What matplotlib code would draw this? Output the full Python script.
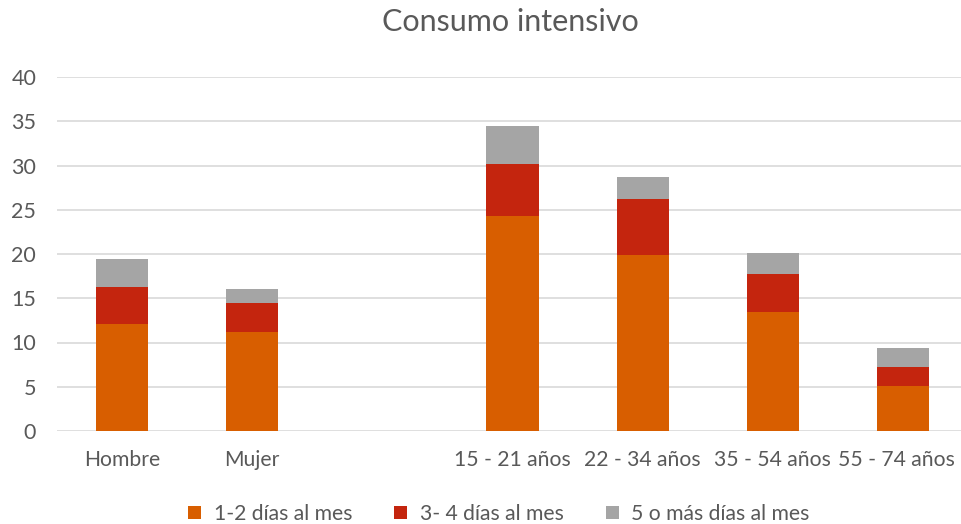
import matplotlib
matplotlib.use("Agg")
import matplotlib.pyplot as plt
import matplotlib.transforms as mtransforms
import numpy as np

categories = ["Hombre", "Mujer", "", "15 - 21 años", "22 - 34 años", "35 - 54 años", "55 - 74 años"]
s1 = [12.1, 11.2, 0, 24.3, 19.9, 13.5, 5.1]
s2 = [4.2, 3.3, 0, 5.9, 6.3, 4.2, 2.1]
s3 = [3.1, 1.5, 0, 4.3, 2.45, 2.45, 2.2]
series_names = ["1-2 días al mes", "3- 4 días al mes", "5 o más días al mes"]
colors = ["#D85E00", "#C4250E", "#A5A5A5"]
yticks = [0, 5, 10, 15, 20, 25, 30, 35, 40]

plt.rcParams['font.family'] = ['Lato', 'DejaVu Sans']
fig = plt.figure(figsize=(9.61, 5.24), dpi=100)
W, H = 961, 524
left, right = 57, 968
top, bottom = 77, 431
ax = fig.add_axes([left / W, 1 - bottom / H, (right - left) / W, (bottom - top) / H])

x = np.arange(len(categories))
b1 = np.array(s1); b2 = np.array(s2); b3 = np.array(s3)
ax.bar(x, b1, width=0.4, color=colors[0], label=series_names[0], zorder=3)
ax.bar(x, b2, width=0.4, bottom=b1, color=colors[1], label=series_names[1], zorder=3)
ax.bar(x, b3, width=0.4, bottom=b1 + b2, color=colors[2], label=series_names[2], zorder=3)

ax.set_xlim(-0.5, len(categories) - 0.5)
ax.set_ylim(0, 40)
ax.set_yticks(yticks)
ax.set_xticks(x)
ax.set_xticklabels(categories)
ax.tick_params(axis='both', length=0, colors='#595959')
ax.tick_params(axis='x', labelsize=15.2, pad=14)
ax.tick_params(axis='y', labelsize=15.5, pad=15)
last = ax.get_xticklabels()[-1]
last.set_transform(last.get_transform() + mtransforms.ScaledTranslation(-6 / 100, 0, fig.dpi_scale_trans))
ax.grid(axis='y', color='#D9D9D9', linewidth=1.2, zorder=0)
ax.set_axisbelow(True)
for s in ax.spines.values():
    s.set_visible(False)

fig.text(510 / W, 1 - 22 / H, "Consumo intensivo", ha='center', va='center',
         fontsize=22, color='#595959')

handles, labels = ax.get_legend_handles_labels()
leg = fig.legend(handles, labels, loc='center', bbox_to_anchor=(499 / W, 1 - 514 / H),
                 ncol=3, frameon=False, fontsize=15.2, handlelength=0.6, handleheight=0.6,
                 handletextpad=0.6, columnspacing=2.0, labelcolor='#595959')

fig.savefig("out.png", dpi=100)
